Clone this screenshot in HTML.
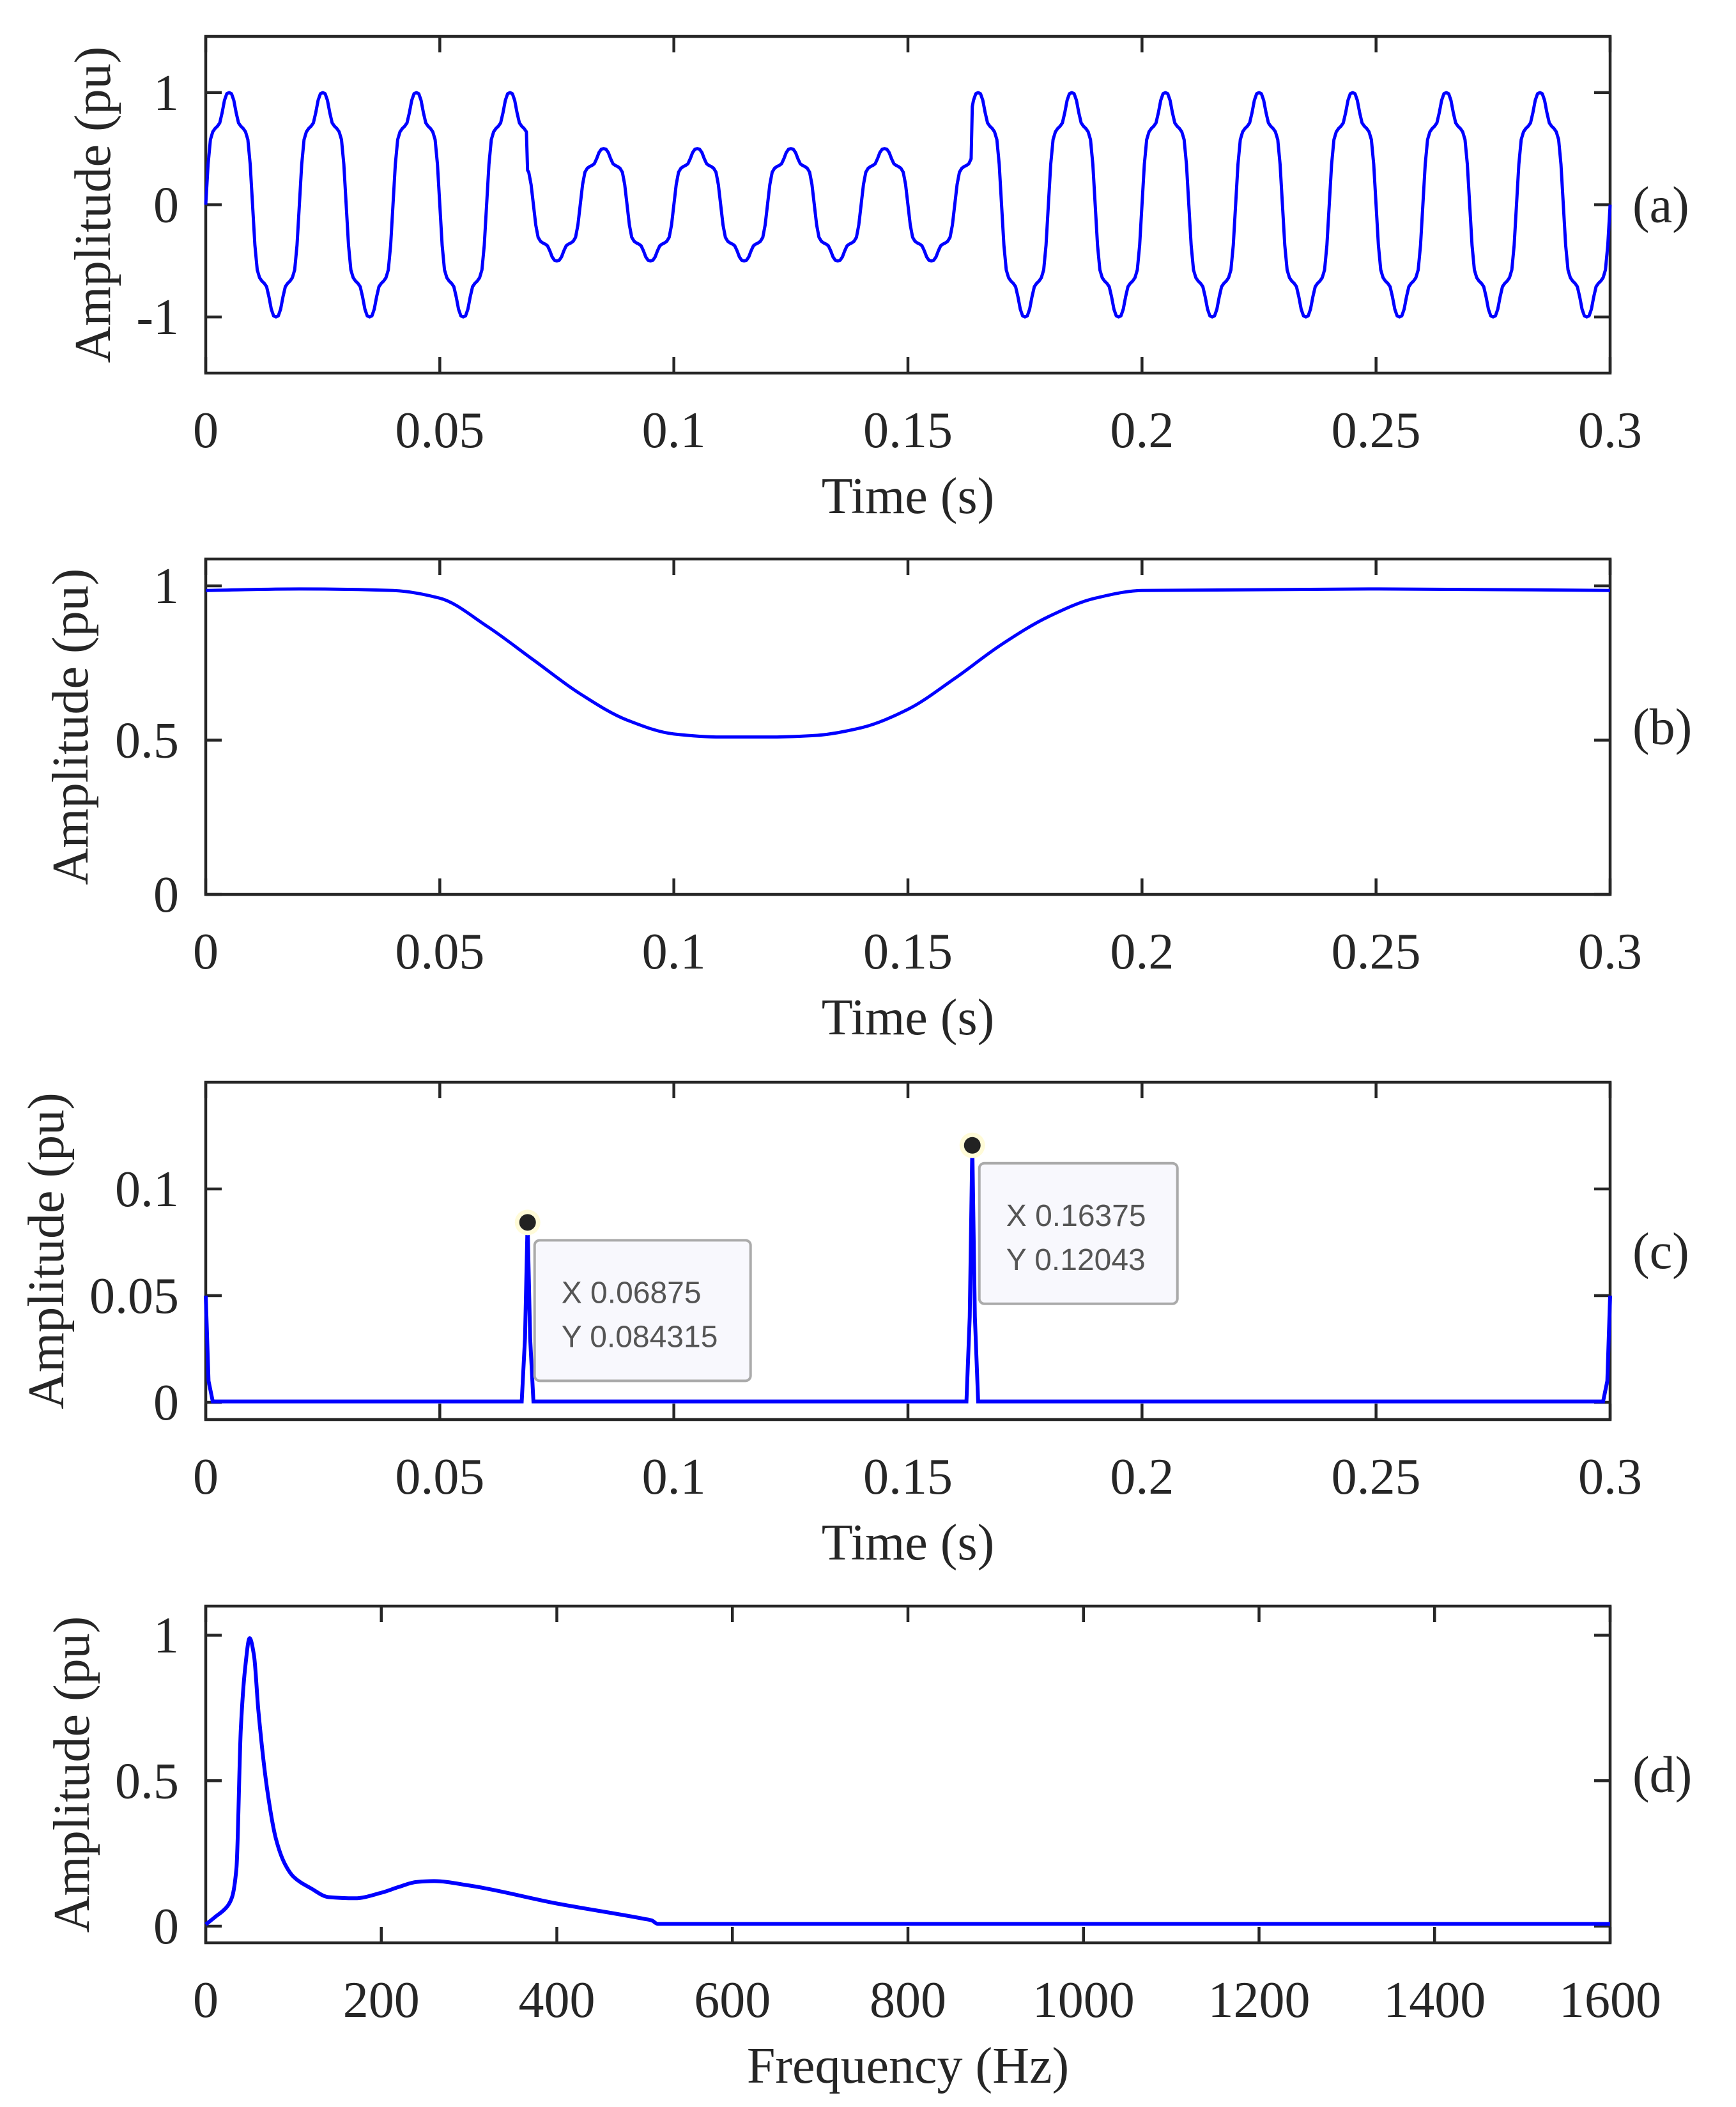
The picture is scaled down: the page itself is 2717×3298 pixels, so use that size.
<!DOCTYPE html>
<html><head><meta charset="utf-8">
<style>
html,body{margin:0;padding:0;background:#fff;}
svg{display:block;}
text{font-family:"Liberation Serif",serif;fill:#262626;}
.dt{font-family:"Liberation Sans",sans-serif;fill:#555;font-size:48px;}
</style></head>
<body>
<svg id="fig" width="2717" height="3298" viewBox="0 0 2717 3298" xmlns="http://www.w3.org/2000/svg"></svg>
<script>
// ---- Panel (a) data: one quarter-cycle shape (0..90 deg, 9 deg steps) ----
const aShapeQuarter = [0, 0.36, 0.58, 0.65, 0.68, 0.70, 0.73, 0.82, 0.93, 0.99, 1.0];
const aPeriod = 0.02;
const aSagStart = [0.06875];
const aSagEnd = [0.16375];
const aSagDepth = [0.5];
// ---- Panel (b) data ----
const bT = [0,0.02,0.04,0.05,0.06,0.07,0.08,0.09,0.1,0.11,0.12,0.13,0.14,0.15,0.16,0.17,0.18,0.19,0.2,0.25,0.3];
const bV = [0.985,0.99,0.985,0.96,0.87,0.76,0.65,0.565,0.52,0.51,0.51,0.515,0.54,0.6,0.7,0.81,0.9,0.96,0.985,0.99,0.985];
// ---- Panel (c) data ----
const cT = [0,0.0006,0.0015,0.0675,0.0682,0.06875,0.0693,0.070,0.1625,0.1632,0.16375,0.1643,0.165,0.2985,0.2994,0.3];
const cV = [0.05,0.01,0.0004,0.0004,0.03,0.0843,0.03,0.0004,0.0004,0.04,0.1204,0.04,0.0004,0.0004,0.01,0.05];
const cTipX = [0.06875, 0.16375];
const cTipY = [0.084315, 0.12043];
const cTipXLabel = ["X 0.06875", "X 0.16375"];
const cTipYLabel = ["Y 0.084315", "Y 0.12043"];
// ---- Panel (d) data ----
const dF = [0,10,25,30,35,40,45,50,55,60,70,80,90,100,120,140,170,200,220,240,260,300,400,500,508,515,1600];
const dV = [0.006,0.03,0.07,0.1,0.2,0.68,0.89,0.99,0.93,0.74,0.47,0.3,0.215,0.17,0.13,0.1,0.096,0.115,0.135,0.152,0.155,0.14,0.078,0.025,0.02,0.008,0.008];
// ---- tick labels ----
const timeTicks = [0,0.05,0.1,0.15,0.2,0.25,0.3];
const timeTickLabels = ["0","0.05","0.1","0.15","0.2","0.25","0.3"];
const freqTicks = [0,200,400,600,800,1000,1200,1400,1600];
const freqTickLabels = ["0","200","400","600","800","1000","1200","1400","1600"];
const aYTicks=[-1,0,1], aYLabels=["-1","0","1"];
const bYTicks=[0,0.5,1], bYLabels=["0","0.5","1"];
const cYTicks=[0,0.05,0.1], cYLabels=["0","0.05","0.1"];
const dYTicks=[0,0.5,1], dYLabels=["0","0.5","1"];

const NS="http://www.w3.org/2000/svg";
const fig=document.getElementById('fig');
function mk(tag,attrs,parent){const e=document.createElementNS(NS,tag);for(const k in attrs)e.setAttribute(k,attrs[k]);(parent||fig).appendChild(e);return e;}

const L=322,R=2520;
function axes(p){
  const g=mk('g',{});
  
  
  const sx=v=>L+(v-p.x0)/(p.x1-p.x0)*(R-L);
  const sy=v=>p.bot-(v-p.y0)/(p.y1-p.y0)*(p.bot-p.top);
  p.sx=sx;p.sy=sy;p.g=g;
  return p;
}
function frame(p){
  const g=p.g;
  const box=mk('rect',{x:L,y:p.top,width:R-L,height:p.bot-p.top,fill:'none',stroke:'#262626','stroke-width':4.5},g);
  
  
  p.xt.forEach((v,i)=>{
    const x=p.sx(v);
    mk('line',{x1:x,y1:p.bot,x2:x,y2:p.bot-25,stroke:'#262626','stroke-width':4.5},g);
    mk('line',{x1:x,y1:p.top,x2:x,y2:p.top+25,stroke:'#262626','stroke-width':4.5},g);
    const t=mk('text',{x:x,y:p.bot+116,'font-size':80,'text-anchor':'middle'},g);
    
    
    t.textContent=p.xl[i];
  });
  p.yt.forEach((v,i)=>{
    const y=p.sy(v);
    mk('line',{x1:L,y1:y,x2:L+25,y2:y,stroke:'#262626','stroke-width':4.5},g);
    mk('line',{x1:R,y1:y,x2:R-25,y2:y,stroke:'#262626','stroke-width':4.5},g);
    const t=mk('text',{x:280,y:y+27,'font-size':80,'text-anchor':'end'},g);
    
    
    t.textContent=p.yl[i];
  });
  const xl=mk('text',{x:(L+R)/2,y:p.bot+219,'font-size':80,'text-anchor':'middle'},g);
  
  
  xl.textContent=p.xtitle;
  const mid=(p.top+p.bot)/2;
  const yl=mk('text',{x:0,y:0,'font-size':80,'text-anchor':'middle',transform:`translate(${p.ylx},${mid}) rotate(-90)`},g);
  
  
  yl.textContent='Amplitude (pu)';
  const pl=mk('text',{x:2555,y:mid+27,'font-size':80},g);
  
  
  pl.textContent=p.label;
}
// monotone cubic (Fritsch-Carlson) path, no overshoot
function monoPath(p,xs,ys){
  const X=xs.map(p.sx),Y=ys.map(p.sy),n=X.length;
  const d=[],m=new Array(n);
  for(let i=0;i<n-1;i++)d.push((Y[i+1]-Y[i])/(X[i+1]-X[i]));
  m[0]=d[0];m[n-1]=d[n-2];
  for(let i=1;i<n-1;i++){
    if(d[i-1]*d[i]<=0)m[i]=0;
    else{const w1=2*(X[i+1]-X[i])+(X[i]-X[i-1]),w2=(X[i+1]-X[i])+2*(X[i]-X[i-1]);m[i]=(w1+w2)/(w1/d[i-1]+w2/d[i]);}
  }
  let s=`M${X[0]},${Y[0]}`;
  for(let i=0;i<n-1;i++){
    const h=X[i+1]-X[i];
    s+=` C${X[i]+h/3},${Y[i]+m[i]*h/3} ${X[i+1]-h/3},${Y[i+1]-m[i+1]*h/3} ${X[i+1]},${Y[i+1]}`;
  }
  return s;
}
function linePath(p,xs,ys){return xs.map((x,i)=>(i?'L':'M')+p.sx(x)+','+p.sy(ys[i])).join(' ');}

// Panel a
const A=axes({name:'panel-a',x0:0,x1:0.3,y0:-1.5,y1:1.5,top:57,bot:584,xt:timeTicks,xl:timeTickLabels,yt:aYTicks,yl:aYLabels,xtitle:'Time (s)',ylx:172,label:'(a)'});
frame(A);
(function(){
  function shape(deg){
    let d=deg%360, s=1;
    if(d>=180){d-=180;s=-1;}
    if(d>90)d=180-d;
    const f=d/9,i=Math.floor(f),r=f-i;
    const v=i>=10?aShapeQuarter[10]:aShapeQuarter[i]*(1-r)+aShapeQuarter[i+1]*r;
    return s*v;
  }
  const ts=[],vs=[];
  const n=1200;
  for(let k=0;k<=n;k++){
    const t=0.3*k/n;
    let amp=1;
    for(let j=0;j<aSagStart.length;j++) if(t>=aSagStart[j]&&t<aSagEnd[j]) amp=aSagDepth[j];
    ts.push(t);vs.push(amp*shape(t/aPeriod*360));
  }
  const pa=mk('path',{d:linePath(A,ts,vs),fill:'none',stroke:'#0000ff','stroke-width':5,'stroke-linejoin':'round'},A.g);
  
  
})();

// Panel b
const B=axes({name:'panel-b',x0:0,x1:0.3,y0:0,y1:1.087,top:875,bot:1400,xt:timeTicks,xl:timeTickLabels,yt:bYTicks,yl:bYLabels,xtitle:'Time (s)',ylx:137,label:'(b)'});
frame(B);
const pb=mk('path',{d:monoPath(B,bT,bV),fill:'none',stroke:'#0000ff','stroke-width':5},B.g);



// Panel c
const C=axes({name:'panel-c',x0:0,x1:0.3,y0:-0.0081,y1:0.15,top:1694,bot:2222,xt:timeTicks,xl:timeTickLabels,yt:cYTicks,yl:cYLabels,xtitle:'Time (s)',ylx:99,label:'(c)'});
frame(C);
const pc=mk('path',{d:linePath(C,cT,cV),fill:'none',stroke:'#0000ff','stroke-width':6},C.g);


cTipX.forEach((x,i)=>{
  const px=C.sx(x),py=C.sy(cTipY[i]);
  const halo=mk('circle',{cx:px,cy:py,r:20,fill:'#fffbd8'},C.g);
  
  
  const dot=mk('circle',{cx:px,cy:py,r:13,fill:'#222'},C.g);
  
  
  const bx=px+11,by=py+28;
  const box=mk('rect',{x:bx,y:by,width:i===0?338:310,height:220,rx:8,fill:'#f8f8fd',stroke:'#aaa','stroke-width':4},C.g);
  
  
  const t1=mk('text',{x:bx+42,y:by+98,class:'dt'},C.g);
  
  
  t1.textContent=cTipXLabel[i];
  const t2=mk('text',{x:bx+42,y:by+167,class:'dt'},C.g);
  
  
  t2.textContent=cTipYLabel[i];
});

// Panel d
const D=axes({name:'panel-d',x0:0,x1:1600,y0:-0.057,y1:1.1,top:2514,bot:3041,xt:freqTicks,xl:freqTickLabels,yt:dYTicks,yl:dYLabels,xtitle:'Frequency (Hz)',ylx:139,label:'(d)'});
frame(D);
const pd=mk('path',{d:monoPath(D,dF,dV),fill:'none',stroke:'#0000ff','stroke-width':6},D.g);


</script>
</body></html>
